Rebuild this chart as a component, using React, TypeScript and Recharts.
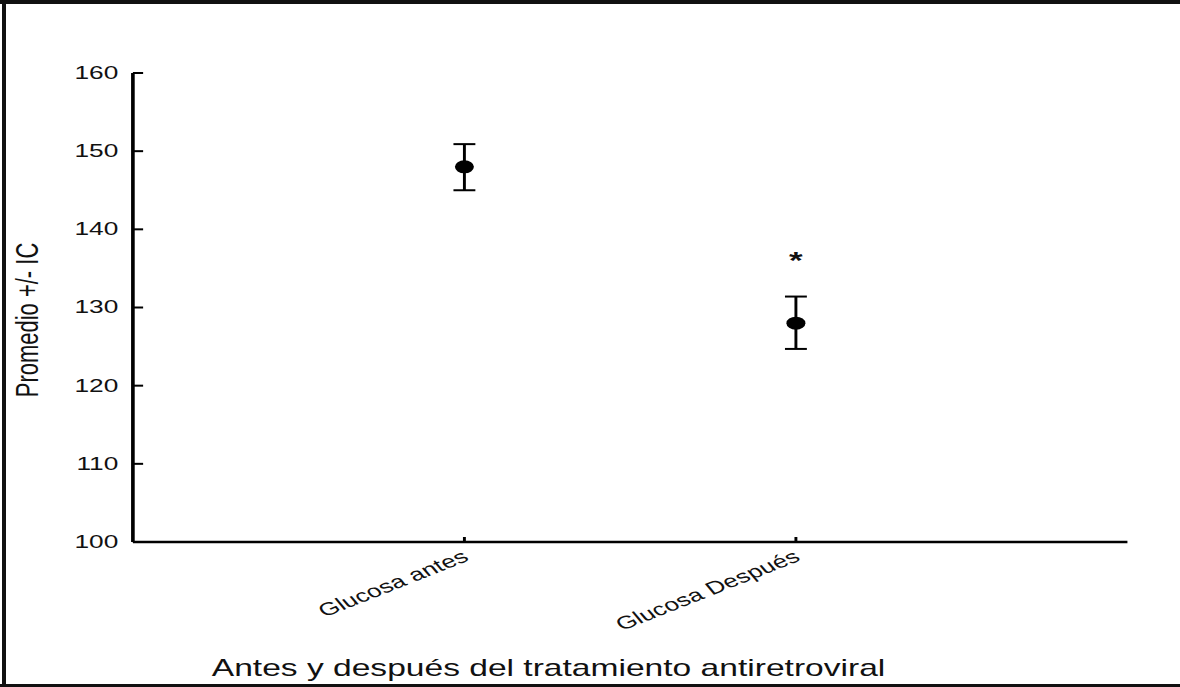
import React from 'react';
import { ScatterChart, Scatter, XAxis, YAxis, ErrorBar } from 'recharts';

// values (glucose mean with confidence interval)
const categories = ['Glucosa antes', 'Glucosa Después'];
const means = [148, 128];
const ciLow = [145, 124.7];
const ciHigh = [150.9, 131.4];
const marks = ['', '*'];
const markPos = [null, 136.7];
const yTicks = [100, 110, 120, 130, 140, 150, 160];

const Y_TITLE = 'Promedio +/- IC';
const X_TITLE = 'Antes y después del tratamiento antiretroviral';

// the reference picture is stretched horizontally, so draw narrow and scale
const STRETCH = 1180 / 808;
const FONT = '"Liberation Sans", Arial, Helvetica, sans-serif';

const points = means.map((m, i) => ({
  x: i + 1,
  y: m,
  err: [m - ciLow[i], ciHigh[i] - m],
}));

const markRows = marks
  .map((mark, i) => ({ x: i + 1, y: markPos[i], mark }))
  .filter((r) => r.mark !== '');

const YTick = ({ x, y, payload }: any) => (
  <g>
    <line x1={x + 10} y1={y} x2={x + 17} y2={y} stroke="#000" strokeWidth={2} />
    <text x={x} y={y} dy={6} textAnchor="end" fontSize={18} fill="#111" fontFamily={FONT}>
      {payload.value}
    </text>
  </g>
);

const XTick = ({ x, y, payload }: any) => {
  const label = categories[payload.value - 1] ?? '';
  const tx = x + 4;
  const ty = y + 18;
  return (
    <g>
      <line x1={x} y1={y} x2={x} y2={y - 5} stroke="#000" strokeWidth={2} />
      <text
        x={tx}
        y={ty}
        textAnchor="end"
        transform={`rotate(-30, ${tx}, ${ty})`}
        fontSize={18}
        fill="#111"
        fontFamily={FONT}
      >
        {label}
      </text>
    </g>
  );
};

const Dot = ({ cx, cy }: any) => <circle cx={cx} cy={cy} r={6.5} fill="#000" />;

const Mark = ({ cx, cy, payload }: any) => (
  <text x={cx} y={cy + 14} textAnchor="middle" fontSize={24} fontWeight="bold" fill="#111" fontFamily={FONT}>
    {payload.mark}
  </text>
);

export default function App() {
  return (
    <div style={{ position: 'fixed', left: 0, top: 0, width: 1180, height: 687, background: '#fff', overflow: 'hidden' }}>
      <div style={{ width: 808, height: 687, transform: `scaleX(${STRETCH})`, transformOrigin: '0 0' }}>
        <ScatterChart width={808} height={687} margin={{ top: 73, right: 36, bottom: 45, left: 21 }}>
          <XAxis
            type="number"
            dataKey="x"
            domain={[0, 3]}
            ticks={[1, 2]}
            height={100}
            axisLine={{ stroke: '#000', strokeWidth: 2.5 }}
            tickLine={false}
            tickSize={0}
            tickMargin={0}
            tick={<XTick />}
            label={{
              content: () => (
                <text x={145} y={676} fontSize={23} fill="#111" fontFamily={FONT}>
                  {X_TITLE}
                </text>
              ),
            }}
          />
          <YAxis
            type="number"
            dataKey="y"
            domain={[100, 160]}
            ticks={yTicks}
            width={70}
            axisLine={{ stroke: '#000', strokeWidth: 2.5 }}
            tickLine={false}
            tickSize={0}
            tickMargin={10}
            tick={<YTick />}
            label={{
              content: () => (
                <text
                  transform="translate(26, 320) rotate(-90)"
                  textAnchor="middle"
                  fontSize={22}
                  fill="#111"
                  fontFamily={FONT}
                >
                  {Y_TITLE}
                </text>
              ),
            }}
          />
          <Scatter data={points} shape={<Dot />} isAnimationActive={false}>
            <ErrorBar dataKey="err" direction="y" width={7.5} stroke="#000" strokeWidth={2} />
          </Scatter>
          <Scatter data={markRows} shape={<Mark />} isAnimationActive={false} />
        </ScatterChart>
      </div>
      <div style={{ position: 'absolute', left: 0, top: 0, width: 1180, height: 4, background: '#111' }} />
      <div style={{ position: 'absolute', left: 2, top: 0, width: 4, height: 687, background: '#111' }} />
      <div style={{ position: 'absolute', left: 0, top: 684, width: 1180, height: 3, background: '#111' }} />
    </div>
  );
}
